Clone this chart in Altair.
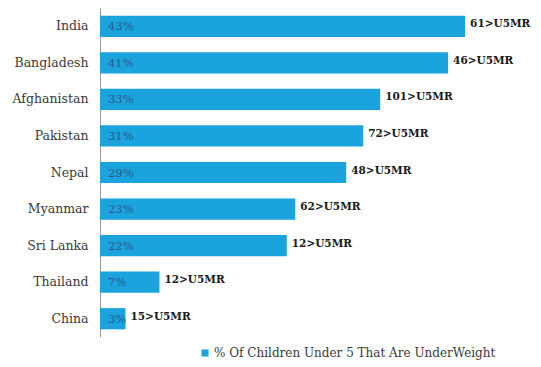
import altair as alt
import pandas as pd

countries = ["India", "Bangladesh", "Afghanistan", "Pakistan", "Nepal",
             "Myanmar", "Sri Lanka", "Thailand", "China"]
underweight = [43, 41, 33, 31, 29, 23, 22, 7, 3]
u5mr = [61, 46, 101, 72, 48, 62, 12, 12, 15]
series_name = "% Of Children Under 5 That Are UnderWeight"

df = pd.DataFrame({
    "country": countries,
    "value": underweight,
    "inner": [f"{v}%" for v in underweight],
    "outer": [f"{u}>U5MR" for u in u5mr],
    "series": [series_name] * len(countries),
})

FONT = "'DejaVu Serif', 'Liberation Serif', serif"
BLUE = "#1ba3de"

y_enc = alt.Y("country:N", sort=countries,
              scale=alt.Scale(paddingInner=0.42, paddingOuter=0.21),
              axis=alt.Axis(title=None, ticks=False, domainColor="#9a9a9a",
                            labelPadding=12))
x_enc = alt.X("value:Q", scale=alt.Scale(domain=[0, 51], nice=False), axis=None)

bars = alt.Chart(df).mark_bar().encode(
    x=x_enc, y=y_enc,
    color=alt.Color("series:N", scale=alt.Scale(range=[BLUE]),
                    legend=alt.Legend(title=None, orient="none", legendX=99, legendY=339,
                                      symbolType="square", symbolSize=50,
                                      labelOffset=3, labelLimit=400)),
)

inner = alt.Chart(df).mark_text(align="left", baseline="middle", dx=0, dy=1,
                                font=FONT, fontSize=11.5, color="#2b5a8a").encode(
    x=alt.value(8), y=alt.Y("country:N", sort=countries), text="inner:N")

outer = alt.Chart(df).mark_text(align="left", baseline="middle", dx=5, dy=-2,
                                font=FONT, fontSize=10.5, fontWeight="bold",
                                color="#1a1a1a").encode(
    x=x_enc, y=alt.Y("country:N", sort=countries), text="outer:N")

chart = alt.layer(bars, inner, outer).properties(
    width=433, height=329,
    autosize=alt.AutoSizeParams(type="none"),
    padding={"left": 92, "top": 0, "right": 0, "bottom": 30},
).configure_view(stroke=None).configure_axis(
    labelFont=FONT, labelFontSize=12.5, labelColor="#3a3a3a"
).configure_legend(
    labelFont=FONT, labelFontSize=12, labelColor="#3a3a3a"
)

chart.save("out.html", embed_options={"renderer": "svg", "actions": False})
